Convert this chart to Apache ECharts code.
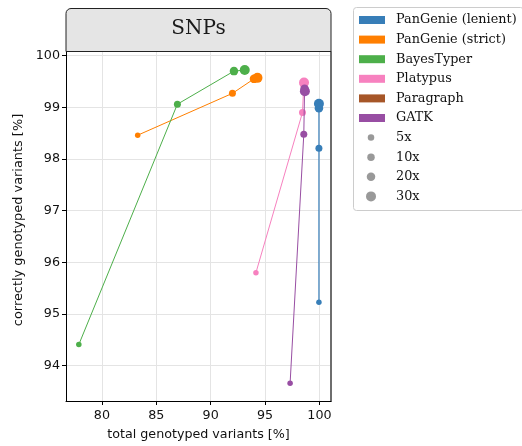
<!DOCTYPE html>
<html>
<head>
<meta charset="utf-8">
<script src="https://cdn.jsdelivr.net/npm/echarts@6/dist/echarts.min.js"></script>
<style>
html,body{margin:0;padding:0;background:#fff;}
#chart{width:522px;height:446px;}
</style>
</head>
<body>
<div id="chart"></div>
<script>
// ---- data ----
const coverages = ['5x', '10x', '20x', '30x'];
const tools = ['PanGenie (lenient)', 'PanGenie (strict)', 'BayesTyper', 'Platypus', 'Paragraph', 'GATK'];
// total genotyped variants [%] / correctly genotyped variants [%] per coverage (5x,10x,20x,30x)
const lenientX = [99.95, 99.95, 99.95, 99.95];
const lenientY = [95.23, 98.21, 98.98, 99.07];
const strictX = [83.29, 92.0, 93.98, 94.3];
const strictY = [98.46, 99.27, 99.55, 99.57];
const bayesX = [77.88, 86.94, 92.14, 93.13];
const bayesY = [94.41, 99.06, 99.70, 99.72];
const platypusX = [94.16, 98.44, 98.56, 98.58];
const platypusY = [95.80, 98.90, 99.45, 99.48];
const paragraphX = [];
const paragraphY = [];
const gatkX = [97.3, 98.56, 98.63, 98.66];
const gatkY = [93.66, 98.48, 99.36, 99.31];
const xTicks = [80, 85, 90, 95, 100];
const yTicks = [94, 95, 96, 97, 98, 99, 100];

const colors = ['#377eb8', '#ff7f00', '#4daf4a', '#f781bf', '#a65628', '#984ea3'];
const markerSizes = [5.5, 7, 8.5, 10];
const legendDot = [6.5, 7.5, 8.5, 10];

const xs = [lenientX, strictX, bayesX, platypusX, paragraphX, gatkX];
const ys = [lenientY, strictY, bayesY, platypusY, paragraphY, gatkY];

const sans = 'DejaVu Sans';
const serif = 'DejaVu Serif';

const series = tools.map((name, i) => ({
  name: name,
  type: 'line',
  data: xs[i].map((x, k) => [x, ys[i][k]]),
  symbol: 'circle',
  symbolSize: (v, p) => markerSizes[p.dataIndex],
  showAllSymbol: true,
  color: colors[i],
  lineStyle: { width: i === 0 ? 1.6 : 1, color: colors[i], opacity: i === 0 ? 0.75 : 1 },
  itemStyle: { color: colors[i], opacity: 1 },
  emphasis: { disabled: true },
  animation: false,
  z: 2 + i
}));
coverages.forEach(c => series.push({ name: c, type: 'scatter', data: [], color: '#808080' }));

const rowH = 19.6;
const firstCenter = 20;
const legends = [{
  orient: 'vertical', left: 359, top: firstCenter - rowH / 2, padding: 0, itemGap: 0,
  itemWidth: 26, itemHeight: 8, icon: 'rect',
  data: tools, selectedMode: false,
  textStyle: { fontFamily: serif, fontSize: 12.8, color: '#111', lineHeight: rowH, padding: [0, 0, 0, 6] }
}];
coverages.forEach((c, k) => {
  const d = legendDot[k];
  legends.push({
    orient: 'vertical', left: 371 - d / 2, top: firstCenter + (6 + k) * rowH - rowH / 2, padding: 0,
    itemWidth: d, itemHeight: d, icon: 'circle',
    data: [c], selectedMode: false,
    textStyle: { fontFamily: serif, fontSize: 12.8, color: '#111', lineHeight: rowH, padding: [0, 0, 0, 20 - d / 2] }
  });
});

const chart = echarts.init(document.getElementById('chart'), null, { renderer: 'canvas' });
chart.setOption({
  animation: false,
  backgroundColor: '#fff',
  title: {
    text: 'SNPs', left: 198.5, top: 19, textAlign: 'center', padding: 0, z: 200,
    textStyle: { fontFamily: serif, fontSize: 20, fontWeight: 'normal', color: '#1a1a1a' }
  },
  legend: legends,
  grid: { left: 66, right: 191, top: 52, bottom: 45, containLabel: false },
  xAxis: {
    type: 'value', min: 76.7, max: 101.06,
    name: 'total genotyped variants [%]', nameLocation: 'middle', nameGap: 27,
    nameTextStyle: { fontFamily: sans, fontSize: 12.7, color: '#111' },
    axisLine: { lineStyle: { color: '#000', width: 1 } },
    axisTick: { show: true, length: 4, lineStyle: { color: '#000' }, customValues: xTicks },
    axisLabel: { customValues: xTicks, margin: 8, fontFamily: sans, fontSize: 12.7, color: '#111' },
    splitLine: { show: true, lineStyle: { color: '#e4e4e4', width: 1 } }
  },
  yAxis: [{
    type: 'value', min: 93.317, max: 100.07,
    name: 'correctly genotyped variants [%]', nameLocation: 'middle', nameGap: 35,
    nameTextStyle: { fontFamily: sans, fontSize: 12.9, color: '#111', padding: [0, 0, 0, 13] },
    axisLine: { show: true, lineStyle: { color: '#000', width: 1 } },
    axisTick: { show: true, length: 4, lineStyle: { color: '#000' }, customValues: yTicks },
    axisLabel: { customValues: yTicks, margin: 6, fontFamily: sans, fontSize: 12.7, color: '#111' },
    splitLine: { show: true, lineStyle: { color: '#e4e4e4', width: 1 } }
  }, {
    type: 'value', position: 'right', min: 93.317, max: 100.07,
    axisLine: { show: true, lineStyle: { color: '#6e6e6e', width: 2 } },
    axisTick: { show: false }, axisLabel: { show: false }, splitLine: { show: false }
  }],
  graphic: [
    {
      type: 'rect', silent: true, z: 100,
      shape: { x: 66, y: 8.5, width: 265, height: 43, r: [5, 5, 0, 0] },
      style: { fill: '#e5e5e5', stroke: '#222', lineWidth: 1 }
    },
    {
      type: 'rect', silent: true, z: -1,
      shape: { x: 353.5, y: 7.5, width: 170, height: 203, r: 3 },
      style: { fill: '#fff', stroke: '#cccccc', lineWidth: 1 }
    }
  ],
  series: series
});
</script>
</body>
</html>
